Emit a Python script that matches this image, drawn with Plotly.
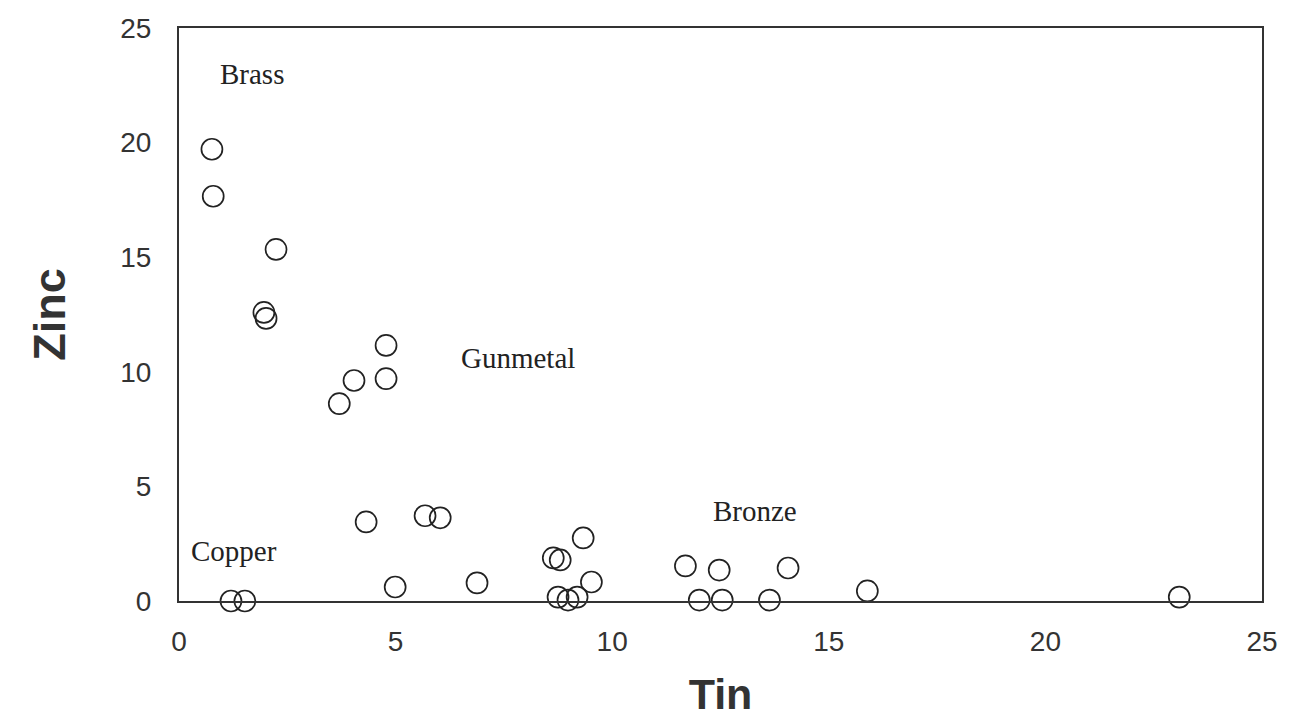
import plotly.graph_objects as go

# Tin (x) and Zinc (y) content of samples
tin = [0.76, 0.79, 2.24, 1.96, 2.01, 4.78, 4.04, 4.78, 3.70,
       4.32, 5.68, 6.03, 4.99, 6.88, 1.20, 1.52,
       8.64, 8.80, 9.33, 9.52, 8.75, 8.98, 9.19,
       11.69, 12.47, 14.06, 12.01, 12.54, 13.63, 15.89, 23.09]
zinc = [19.71, 17.66, 15.34, 12.59, 12.33, 11.15, 9.62, 9.70, 8.61,
        3.45, 3.72, 3.63, 0.61, 0.79, 0.0, 0.0,
        1.88, 1.79, 2.75, 0.83, 0.17, 0.04, 0.17,
        1.53, 1.35, 1.44, 0.04, 0.04, 0.04, 0.44, 0.17]

# Region labels
label_text = ["Brass", "Gunmetal", "Bronze", "Copper"]
label_x = [1.69, 7.83, 13.3, 1.27]
label_y = [23.0, 10.62, 3.93, 2.19]

tick_vals = [0, 5, 10, 15, 20, 25]

fig = go.Figure()
fig.add_trace(go.Scatter(
    x=tin, y=zinc, mode="markers",
    marker=dict(symbol="circle-open", size=21, color="#222222",
                line=dict(width=1.7, color="#222222")),
    cliponaxis=False, showlegend=False,
))

for t, x, y in zip(label_text, label_x, label_y):
    fig.add_annotation(x=x, y=y, text=t, showarrow=False,
                       font=dict(family="Liberation Serif", size=29, color="#222222"))

axis_common = dict(
    range=[0, 25], tickvals=tick_vals, showgrid=False, zeroline=False,
    showline=True, linecolor="#333333", linewidth=2, mirror=True,
    ticks="", automargin=False,
    tickfont=dict(family="Liberation Sans", size=28, color="#333333"),
)

fig.update_xaxes(**axis_common, ticklabelstandoff=14,
                 title=dict(text="<b>Tin</b>", standoff=23,
                            font=dict(family="Liberation Sans", size=43, color="#333333")))
fig.update_yaxes(**axis_common, ticklabelstandoff=20,
                 title=dict(text="<b>Zinc</b>", standoff=40,
                            font=dict(family="Liberation Sans", size=45, color="#333333")))

# the page body adds an 8px offset; margins compensate for it
fig.update_layout(
    width=1307, height=720,
    margin=dict(l=171, r=53, t=20, b=127),
    plot_bgcolor="white", paper_bgcolor="white",
)

fig.write_html("out.html")
